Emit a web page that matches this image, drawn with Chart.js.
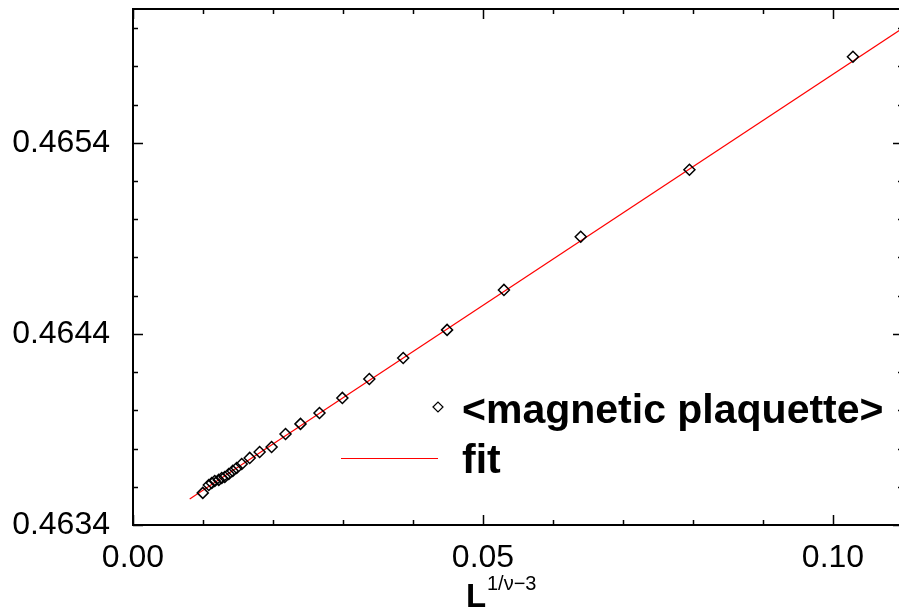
<!DOCTYPE html>
<html>
<head>
<meta charset="utf-8">
<script src="https://cdn.jsdelivr.net/npm/chart.js@4/dist/chart.umd.min.js"></script>
<style>
html,body{margin:0;padding:0;background:#fff;overflow:hidden;}
#wrap{width:910px;height:613px;}
</style>
</head>
<body>
<div id="wrap"><canvas id="c" width="910" height="613"></canvas></div>
<script>
// ---- data ----
const plaqX = [0.00997,0.01083,0.01125,0.01168,0.01225,0.01268,0.01311,0.01368,0.01425,0.01481,
               0.01553,0.01667,0.01809,0.01980,0.02179,0.02393,0.02664,0.02991,0.03376,0.03860,
               0.04487,0.05299,0.06396,0.07949,0.10285];
const plaqY = [0.463568,0.463609,0.463620,0.463630,0.463636,0.463646,0.463651,0.463667,0.463683,0.463698,
               0.463719,0.463751,0.463782,0.463808,0.463876,0.463929,0.463986,0.464065,0.464164,0.464274,
               0.464421,0.464630,0.464908,0.465259,0.465850];
const fitX = [0.0081, 0.11];
const fitY = [0.463536, 0.466000];
const xTickValues = [0.00, 0.05, 0.10];
const xTickLabels = ['0.00', '0.05', '0.10'];
const yTickValues = [0.4634, 0.4644, 0.4654];
const yTickLabels = ['0.4634', '0.4644', '0.4654'];
const seriesLabels = ['<magnetic plaquette>', 'fit'];

const plaqData = plaqX.map((x, i) => ({x, y: plaqY[i]}));
const fitData = fitX.map((x, i) => ({x, y: fitY[i]}));

const FONT = "'Liberation Sans', Arial, Helvetica, sans-serif";

const framePlugin = {
  id: 'frame',
  afterDraw(chart) {
    const {ctx, chartArea: a, scales: {x, y}} = chart;
    ctx.save();
    ctx.strokeStyle = '#000';
    ctx.lineWidth = 1.5;
    for (let k = 0; k <= 11; k++) {
      const v = k * 0.01;
      const px = Math.round(x.getPixelForValue(v)) + 0.5;
      const len = (k % 5 === 0) ? 10 : 5;
      ctx.beginPath();
      ctx.moveTo(px, a.bottom); ctx.lineTo(px, a.bottom - len);
      ctx.moveTo(px, a.top); ctx.lineTo(px, a.top + len);
      ctx.stroke();
    }
    for (let k = 0; k <= 13; k++) {
      const v = 0.4634 + k * 0.0002;
      const py = Math.round(y.getPixelForValue(v)) + 0.5;
      const len = (k % 5 === 0) ? 10 : 5;
      ctx.beginPath();
      ctx.moveTo(a.left, py); ctx.lineTo(a.left + len, py);
      ctx.moveTo(a.right, py); ctx.lineTo(a.right - len, py);
      ctx.stroke();
    }
    ctx.lineWidth = 2;
    ctx.strokeRect(a.left, a.top, a.right - a.left, a.bottom - a.top);

    // x-axis title L^{1/ν−3}
    ctx.fillStyle = '#000';
    ctx.textBaseline = 'alphabetic';
    ctx.textAlign = 'left';
    ctx.font = "bold 33px " + FONT;
    ctx.fillText('L', 466, 607);
    ctx.font = "20px " + FONT;
    ctx.fillText('1/\u03bd\u22123', 487, 590);

    // legend
    const lx = 438, ly1 = 407, ly2 = 458;
    ctx.strokeStyle = '#000'; ctx.lineWidth = 1.2;
    ctx.beginPath();
    ctx.moveTo(lx - 5, ly1); ctx.lineTo(lx, ly1 - 5); ctx.lineTo(lx + 5, ly1); ctx.lineTo(lx, ly1 + 5); ctx.closePath();
    ctx.stroke();
    ctx.strokeStyle = '#ff0000'; ctx.lineWidth = 1.2;
    ctx.beginPath(); ctx.moveTo(341, ly2 + 0.5); ctx.lineTo(438, ly2 + 0.5); ctx.stroke();
    ctx.fillStyle = '#000';
    ctx.font = "bold 41px " + FONT;
    ctx.textBaseline = 'alphabetic';
    ctx.fillText(seriesLabels[0], 462, 423);
    ctx.fillText(seriesLabels[1], 462, 473);
    ctx.restore();
  }
};

new Chart(document.getElementById('c'), {
  type: 'scatter',
  data: {
    datasets: [
      {
        label: seriesLabels[0],
        data: plaqData,
        pointStyle: 'rectRot',
        pointRadius: 5.5,
        pointBorderWidth: 1.5,
        pointBorderColor: '#000',
        pointBackgroundColor: 'rgba(255,255,255,0)',
        showLine: false,
        order: 1
      },
      {
        label: seriesLabels[1],
        type: 'line',
        data: fitData,
        borderColor: '#ff0000',
        borderWidth: 1.2,
        pointRadius: 0,
        fill: false,
        tension: 0,
        order: 2
      }
    ]
  },
  options: {
    responsive: false,
    animation: false,
    devicePixelRatio: 1,
    layout: {padding: {top: 9, right: 5, left: 0, bottom: 0}},
    plugins: {legend: {display: false}, tooltip: {enabled: false}},
    scales: {
      x: {
        type: 'linear',
        min: 0, max: 0.11,
        grid: {display: false, drawTicks: false},
        border: {display: false},
        afterBuildTicks: s => { s.ticks = xTickValues.map(v => ({value: v})); },
        afterFit: s => { s.height = 88; s.paddingLeft = 0; s.paddingRight = 0; },
        ticks: {
          padding: 14,
          color: '#000',
          font: {family: FONT, size: 32},
          maxRotation: 0,
          autoSkip: false,
          callback: (v) => { const i = xTickValues.findIndex(t => Math.abs(t - v) < 1e-9); return i >= 0 ? xTickLabels[i] : ''; }
        }
      },
      y: {
        type: 'linear',
        min: 0.4634, max: 0.4661,
        grid: {display: false, drawTicks: false},
        border: {display: false},
        afterBuildTicks: s => { s.ticks = yTickValues.map(v => ({value: v})); },
        afterFit: s => { s.width = 133; s.paddingTop = 0; s.paddingBottom = 0; },
        ticks: {
          padding: 23,
          color: '#000',
          font: {family: FONT, size: 32},
          autoSkip: false,
          callback: (v) => { const i = yTickValues.findIndex(t => Math.abs(t - v) < 1e-9); return i >= 0 ? yTickLabels[i] : ''; }
        }
      }
    }
  },
  plugins: [framePlugin]
});
</script>
</body>
</html>
